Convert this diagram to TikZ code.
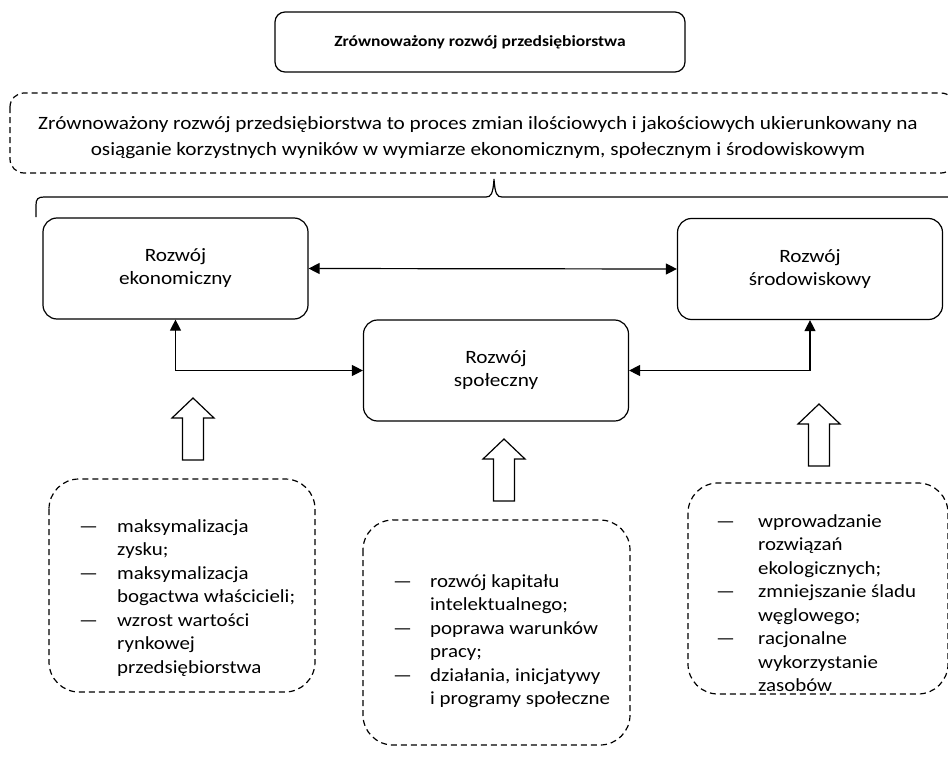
\documentclass[tikz,border=0pt]{standalone}
\usepackage{fontspec}
\setmainfont{Carlito}[FakeStretch=1.13]
\usetikzlibrary{arrows.meta}
\tikzset{
  thin line/.style={line width=1.2pt},
  solidbox/.style={thin line, draw, rounded corners=14pt, minimum width=265pt,
    minimum height=101pt, align=center, inner sep=0pt,
    font=\fontsize{18.8}{23}\selectfont},
  dashbox/.style={thin line, draw, dash pattern=on 6pt off 4pt},
  biarrow/.style={thin line, {Triangle[length=11pt,width=11pt]}-{Triangle[length=11pt,width=11pt]}},
  listtext/.style={anchor=base west, inner sep=0pt, font=\fontsize{18.5}{23.5}\selectfont},
  hollowup/.pic={
    \draw[thin line, line join=miter, fill=white]
      (0,0) -- (21,20) -- (10.5,20) -- (10.5,62) -- (-10.5,62) -- (-10.5,20) -- (-21,20) -- cycle;
  }
}
\begin{document}
\begin{tikzpicture}[x=1pt,y=-1pt]
  \useasboundingbox (0,0) rectangle (948,760);

  % title
  \node[thin line, draw, rounded corners=10pt, minimum width=410pt, minimum height=60pt,
        font=\fontsize{15.5}{18}\bfseries\selectfont] (title) at (480,42)
        {Zrównoważony rozwój przedsiębiorstwa};

  % definition
  \draw[dashbox, rounded corners=14pt] (10,93) rectangle (955,173);
  \node[align=center, inner sep=0pt, font=\fontsize{18.8}{26}\selectfont] (desc) at (478,138)
    {Zrównoważony rozwój przedsiębiorstwa to proces zmian ilościowych i jakościowych ukierunkowany na\\
     osiąganie korzystnych wyników w wymiarze ekonomicznym, społecznym i środowiskowym};

  % brace
  \draw[thin line] (36,217) -- (36,205) .. controls (36,199) and (38,197) .. (44,197)
     -- (486,197) .. controls (491,197) and (493,194) .. (494,179)
     .. controls (495,194) and (497,197) .. (502,197) -- (960,197);

  % pillars
  \node[solidbox] (eko) at (175.5,268.5) {Rozwój\\ekonomiczny};
  \node[solidbox] (sro) at (810,269) {Rozwój\\środowiskowy};
  \node[solidbox] (spo) at (496,370.5) {Rozwój\\społeczny};

  \draw[biarrow] (eko.east) -- (sro.west);
  \draw[biarrow] (eko.south) |- (spo.west);
  \draw[biarrow] (sro.south) |- (spo.east);

  % hollow arrows
  \pic at (193,398) {hollowup};
  \pic at (504,439) {hollowup};
  \pic at (819,404) {hollowup};

  % lists
  \draw[dashbox, rounded corners=30pt] (49,479) rectangle (315,692);
  \node[listtext] (listL) at (79,532) {\begin{tabular}[t]{@{}p{38pt}@{}l@{}}
    — & maksymalizacja\\ & zysku;\\
    — & maksymalizacja\\ & bogactwa właścicieli;\\
    — & wzrost wartości\\ & rynkowej\\ & przedsiębiorstwa\end{tabular}};

  \draw[dashbox, rounded corners=30pt] (363,520) rectangle (630,745);
  \node[listtext] (listM) at (393,587) {\begin{tabular}[t]{@{}p{37pt}@{}l@{}}
    — & rozwój kapitału\\ & intelektualnego;\\
    — & poprawa warunków\\ & pracy;\\
    — & działania, inicjatywy\\ & i programy społeczne\end{tabular}};

  \draw[dashbox, rounded corners=30pt] (688,483) rectangle (948,694);
  \node[listtext] (listR) at (716,527) {\begin{tabular}[t]{@{}p{42pt}@{}l@{}}
    — & wprowadzanie\\ & rozwiązań\\ & ekologicznych;\\
    — & zmniejszanie śladu\\ & węglowego;\\
    — & racjonalne\\ & wykorzystanie\\ & zasobów\end{tabular}};
\end{tikzpicture}
\end{document}
